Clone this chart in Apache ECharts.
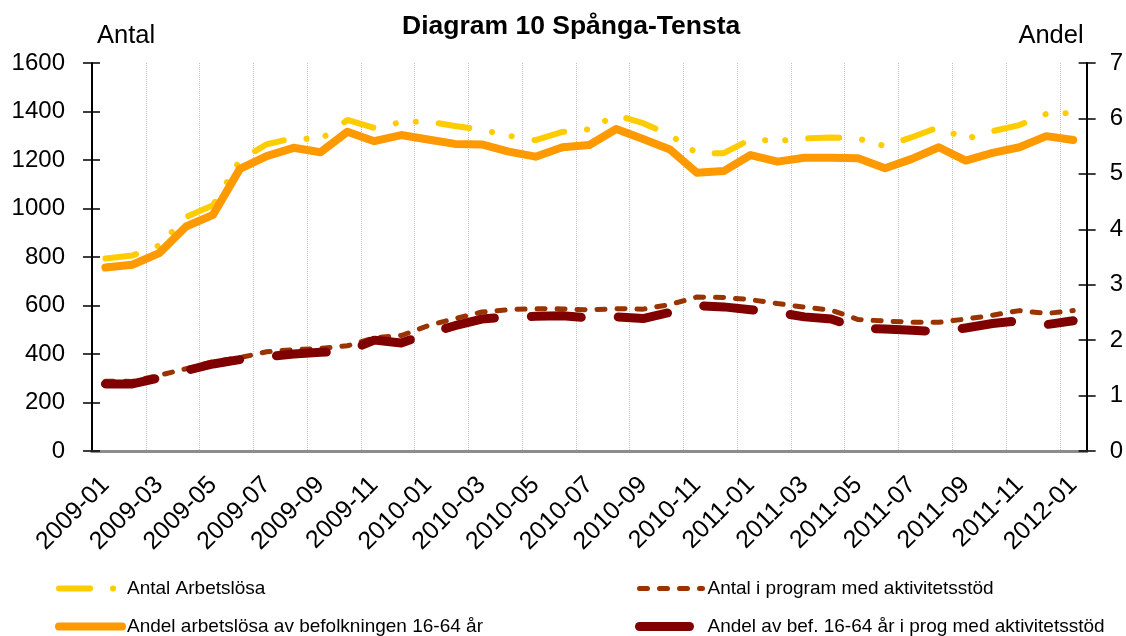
<!DOCTYPE html>
<html>
<head>
<meta charset="utf-8">
<title>Diagram 10 Spånga-Tensta</title>
<script src="https://cdn.jsdelivr.net/npm/echarts@6/dist/echarts.min.js"></script>
<style>
  html, body { margin: 0; padding: 0; background: #fff; }
  #chart { width: 1126px; height: 636px; }
</style>
</head>
<body>
<div id="chart"></div>
<script>
// månader 2009-01 .. 2012-01
const months = [
  '2009-01', '2009-02', '2009-03', '2009-04', '2009-05', '2009-06', '2009-07', '2009-08', '2009-09', '2009-10', '2009-11', '2009-12',
  '2010-01', '2010-02', '2010-03', '2010-04', '2010-05', '2010-06', '2010-07', '2010-08', '2010-09', '2010-10', '2010-11', '2010-12',
  '2011-01', '2011-02', '2011-03', '2011-04', '2011-05', '2011-06', '2011-07', '2011-08', '2011-09', '2011-10', '2011-11', '2011-12',
  '2012-01'
]

// vänster axel (antal)
const antalArbetslosa = [
  794, 806, 848, 965, 1013, 1199, 1265, 1290, 1285, 1365, 1332, 1356,
  1359, 1340, 1325, 1300, 1282, 1316, 1327, 1385, 1352, 1303, 1228, 1228,
  1286, 1278, 1289, 1293, 1289, 1257, 1294, 1336, 1286, 1319, 1344, 1390,
  1394
]
const antalProgram = [
  288, 287, 312, 339, 368, 385, 409, 418, 423, 434, 467, 476,
  517, 546, 573, 583, 587, 586, 582, 587, 585, 604, 635, 633,
  624, 608, 593, 581, 542, 536, 531, 531, 544, 560, 579, 567,
  579
]

// höger axel (andel, %)
const andelArbetslosa = [
  3.31, 3.36, 3.57, 4.05, 4.26, 5.09, 5.32, 5.47, 5.39, 5.76, 5.59, 5.70,
  5.62, 5.54, 5.53, 5.40, 5.31, 5.48, 5.52, 5.81, 5.63, 5.44, 5.02, 5.05,
  5.34, 5.22, 5.29, 5.29, 5.28, 5.10, 5.27, 5.48, 5.24, 5.38, 5.48, 5.68,
  5.61
]
const andelProgram = [
  1.21, 1.21, 1.32, 1.45, 1.57, 1.65, 1.70, 1.75, 1.78, 1.80, 2.00, 1.95,
  2.12, 2.26, 2.38, 2.42, 2.43, 2.44, 2.40, 2.42, 2.39, 2.50, 2.62, 2.60,
  2.55, 2.50, 2.42, 2.38, 2.22, 2.20, 2.18, 2.15, 2.22, 2.30, 2.35, 2.28,
  2.35
]

const font = 'Liberation Sans, Arial, sans-serif'

const names = {
  antal: 'Antal Arbetslösa',
  prog: 'Antal i program med aktivitetsstöd',
  andel: 'Andel arbetslösa av befolkningen 16-64 år',
  andelProg: 'Andel av bef. 16-64 år i prog med aktivitetsstöd'
}

// linjestilar, delas mellan serier och legend
const styles = {
  antal: { color: '#FFCC00', width: 6, type: [31, 23, 0.1, 20, 0.1, 23], cap: 'round' },
  prog: { color: '#993300', width: 5, type: [8, 12], cap: 'round' },
  andel: { color: '#FF9900', width: 8, type: 'solid', cap: 'round', join: 'round' },
  andelProg: { color: '#800000', width: 9, type: [50, 37], cap: 'round', join: 'round' }
}

function legendItem(key) {
  return { name: names[key], lineStyle: styles[key], itemStyle: { opacity: 0 } }
}

function lineSeries(key, data, yAxisIndex) {
  return {
    name: names[key],
    type: 'line',
    xAxisIndex: 0,
    yAxisIndex: yAxisIndex,
    data: data,
    symbol: 'none',
    color: styles[key].color,
    lineStyle: styles[key],
    emphasis: { disabled: true }
  }
}

function legend(left, keys) {
  return {
    orient: 'vertical',
    left: left,
    top: 579,
    padding: 0,
    itemWidth: 63,
    itemHeight: 14,
    itemGap: 19,
    selectedMode: false,
    itemStyle: { opacity: 0 },
    textStyle: { fontFamily: font, fontSize: 19, color: '#000' },
    data: keys.map(legendItem)
  }
}

const chart = echarts.init(document.getElementById('chart'))

const tickStyle = { color: '#000', width: 1.5 }
const plain = v => String(v)

chart.setOption({
  animation: false,
  backgroundColor: '#fff',
  title: {
    text: 'Diagram 10 Spånga-Tensta',
    left: 397,
    top: 8,
    textStyle: { fontFamily: font, fontSize: 26.5, fontWeight: 'bold', color: '#000' }
  },
  legend: [legend(55, ['antal', 'andel']), legend(635, ['prog', 'andelProg'])],
  grid: { left: 92, right: 39, top: 63, bottom: 185 },
  xAxis: [{
    type: 'category',
    position: 'bottom',
    data: months,
    boundaryGap: true,
    axisLine: { lineStyle: { color: '#404040', width: 3 } },
    axisTick: { interval: 1, length: 8, lineStyle: tickStyle },
    axisLabel: {
      interval: 1, rotate: 45, margin: 30,
      fontFamily: font, fontSize: 25, color: '#000'
    },
    splitLine: { show: true, interval: 1, lineStyle: { color: '#C0C0C0', width: 1, type: 'dotted' } }
  }, {
    type: 'category',
    position: 'bottom',
    data: months,
    boundaryGap: true,
    axisLine: { show: false },
    axisTick: { interval: 1, inside: true, length: 7, lineStyle: tickStyle },
    axisLabel: { show: false },
    splitLine: { show: false }
  }, {
    type: 'category',
    position: 'top',
    data: months,
    axisLine: { lineStyle: { color: '#8C8C8C', width: 3 } },
    axisTick: { show: false },
    axisLabel: { show: false },
    splitLine: { show: false }
  }],
  yAxis: [{
    type: 'value',
    position: 'left',
    min: 0, max: 1600, interval: 200,
    name: 'Antal',
    nameLocation: 'end',
    nameGap: 14,
    nameTextStyle: { fontFamily: font, fontSize: 25.5, color: '#000', align: 'left', padding: [0, 0, 0, 5] },
    axisLine: { show: true, lineStyle: { color: '#000', width: 2 } },
    axisTick: { show: true, length: 9, lineStyle: tickStyle },
    axisLabel: { margin: 27, fontFamily: font, fontSize: 24, color: '#000', formatter: plain },
    splitLine: { show: false }
  }, {
    type: 'value',
    position: 'right',
    min: 0, max: 7, interval: 1,
    name: 'Andel',
    nameLocation: 'end',
    nameGap: 14,
    nameTextStyle: { fontFamily: font, fontSize: 25.5, color: '#000', align: 'right', padding: [0, 3, 0, 0] },
    axisLine: { show: true, lineStyle: { color: '#000', width: 2 } },
    axisTick: { show: true, length: 9, lineStyle: tickStyle },
    axisLabel: { margin: 23, fontFamily: font, fontSize: 24, color: '#000', formatter: plain },
    splitLine: { show: false }
  }, {
    type: 'value',
    position: 'left',
    min: 0, max: 1600, interval: 200,
    axisLine: { show: false },
    axisTick: { show: true, inside: true, length: 8, lineStyle: tickStyle },
    axisLabel: { show: false },
    splitLine: { show: false }
  }, {
    type: 'value',
    position: 'right',
    min: 0, max: 7, interval: 1,
    axisLine: { show: false },
    axisTick: { show: true, inside: true, length: 8, lineStyle: tickStyle },
    axisLabel: { show: false },
    splitLine: { show: false }
  }],
  series: [
    lineSeries('antal', antalArbetslosa, 0),
    lineSeries('prog', antalProgram, 0),
    lineSeries('andel', andelArbetslosa, 1),
    lineSeries('andelProg', andelProgram, 1)
  ]
})
</script>
</body>
</html>
